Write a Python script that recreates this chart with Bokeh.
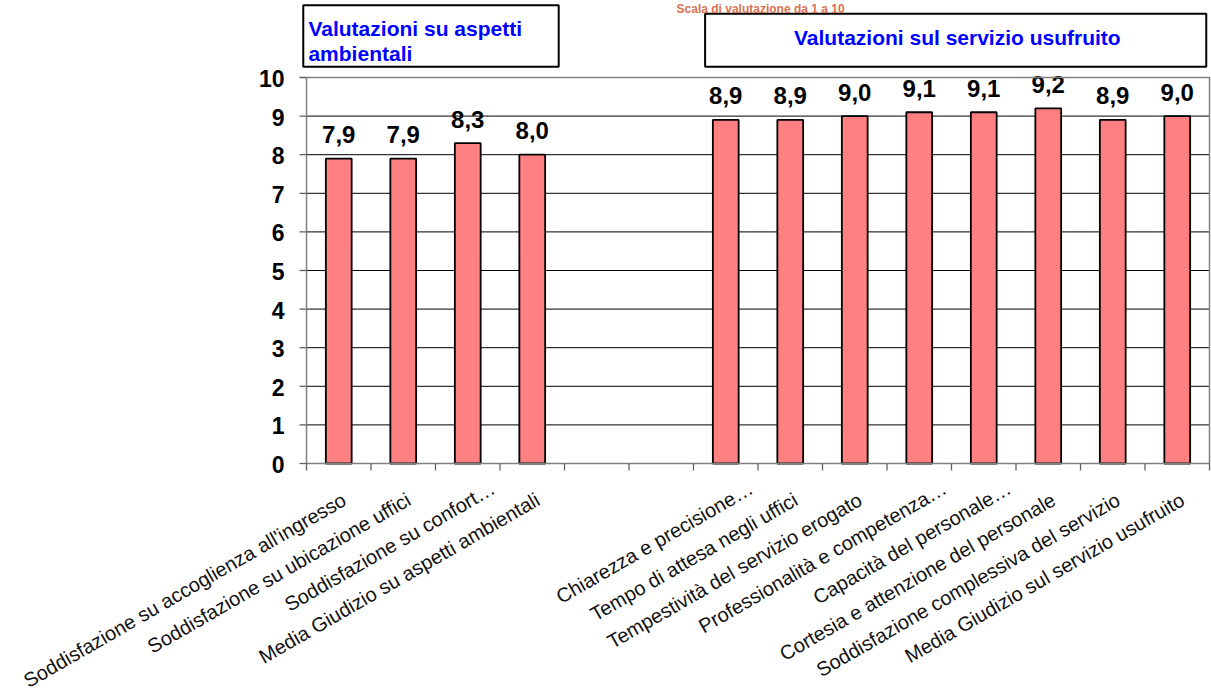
import math
from bokeh.plotting import figure
from bokeh.models import Range1d, ColumnDataSource, Label
from bokeh.core.properties import value
from bokeh.embed import file_html
from bokeh.resources import INLINE

# ---- data ----
categories = [
    "Soddisfazione su accoglienza all'ingresso",
    "Soddisfazione su ubicazione uffici",
    "Soddisfazione su confort…",
    "Media Giudizio su aspetti ambientali",
    "",
    "",
    "Chiarezza e precisione…",
    "Tempo di attesa negli uffici",
    "Tempestività del servizio erogato",
    "Professionalità e competenza…",
    "Capacità del personale…",
    "Cortesia e attenzione del personale",
    "Soddisfazione complessiva del servizio",
    "Media Giudizio sul servizio usufruito",
]
scores = [7.9, 7.9, 8.3, 8.0, None, None, 8.9, 8.9, 9.0, 9.1, 9.1, 9.2, 8.9, 9.0]
y_ticks = [0, 1, 2, 3, 4, 5, 6, 7, 8, 9, 10]
title_text = "Scala di valutazione da 1 a 10"
group_titles = ["Valutazioni su aspetti\nambientali", "Valutazioni sul servizio usufruito"]

FONT = "Liberation Sans"
n = len(categories)
xs = [i + 0.5 for i, v in enumerate(scores) if v is not None]
vals = [v for v in scores if v is not None]
labs = [f"{v:.1f}".replace(".", ",") for v in vals]
cat_x = [i + 0.5 for i, c in enumerate(categories) if c]
cat_names = [c for c in categories if c]
bounds = list(range(n + 1))

# layout (pixels): value-axis at x=306, y=0 at 463, y=10 at 77, bar slot 64.5 px
PX_X, PX_Y = 64.5, 38.6
W, H = 1211, 695
x_start = -306 / PX_X
x_end = n + 2 / PX_X
y_top = 463 / PX_Y
y_bot = -(H - 463) / PX_Y

# the frame covers the whole canvas; axes are drawn from glyphs
p = figure(width=W, height=H, output_backend="svg", toolbar_location=None,
           x_range=Range1d(x_start, x_end), y_range=Range1d(y_bot, y_top),
           min_border_left=0, min_border_right=0, min_border_top=0,
           min_border_bottom=0)
p.outline_line_color = None
p.background_fill_color = "white"
p.border_fill_color = "white"
p.xaxis.visible = False
p.yaxis.visible = False
p.grid.visible = False

# gridlines 1..9 black
grid_y = y_ticks[1:-1]
p.segment(x0=[0] * len(grid_y), y0=grid_y, x1=[n] * len(grid_y), y1=grid_y,
          line_color="black", line_width=1)

# bars
src = ColumnDataSource(dict(x=xs, top=vals, lab=labs))
p.vbar(x="x", top="top", width=0.4, bottom=0, source=src,
       fill_color="#FF8080", line_color="black", line_width=1.8)
p.text(x="x", y="top", text="lab", source=src, text_align="center",
       text_baseline="alphabetic", y_offset=-24, text_font=value(FONT),
       text_font_style="bold", text_font_size="24px", text_color="black")

# plot-area border (gray)
p.quad(left=[0], right=[n], bottom=[0], top=[y_ticks[-1]], fill_color=None,
       line_color="#808080", line_width=1.5)

# value-axis tick marks and labels
tick_len = 7 / PX_X
p.segment(x0=[-tick_len] * len(y_ticks), y0=y_ticks, x1=[0] * len(y_ticks), y1=y_ticks,
          line_color="#606060", line_width=1.3)
p.text(x=[0] * len(y_ticks), y=y_ticks, text=[str(t) for t in y_ticks],
       text_align="right", text_baseline="middle", x_offset=-22, y_offset=1,
       text_font=value(FONT), text_font_style="bold", text_font_size="23px",
       text_color="black")

# category-boundary tick marks below the x axis
tick_h = 7 / PX_Y
p.segment(x0=bounds, y0=[0] * len(bounds), x1=bounds, y1=[-tick_h] * len(bounds),
          line_color="#606060", line_width=1.3)

# category labels, rotated 30 degrees, right end at the category centre
# (truncated labels sit a little further along their direction, as in the source)
ang = math.pi / 6
shift = [23 if c.endswith("…") else 0 for c in cat_names]
cat_src = ColumnDataSource(dict(
    x=cat_x, y=[0] * len(cat_x), name=cat_names,
    xo=[0 + s * math.cos(ang) for s in shift],
    yo=[25 - s * math.sin(ang) for s in shift]))
p.text(x="x", y="y", text="name", source=cat_src, angle=ang,
       text_align="right", text_baseline="top", x_offset="xo", y_offset="yo",
       text_font=value(FONT), text_font_size="20px", text_color="#111111")

# group boxes
p.quad(left=[-0.05, 6.18], right=[3.91, 13.95], top=[11.87, 11.65],
       bottom=[10.28, 10.28], fill_color="white", line_color="black", line_width=2)
line1, line2 = group_titles[0].split("\n")
p.text(x=[0.03], y=[11.27], text=[line1], text_align="left",
       text_baseline="alphabetic", text_font=value(FONT), text_font_style="bold",
       text_font_size="21px", text_color="#0000FF")
p.text(x=[0.03], y=[10.62], text=[line2], text_align="left",
       text_baseline="alphabetic", text_font=value(FONT), text_font_style="bold",
       text_font_size="21px", text_color="#0000FF")
p.text(x=[10.09], y=[11.04], text=[group_titles[1]], text_align="center",
       text_baseline="alphabetic", text_font=value(FONT), text_font_style="bold",
       text_font_size="21px", text_color="#0000FF")

# title (small, fully visible above the boxes)
p.add_layout(Label(x=7.04, y=11.77, text=title_text, text_align="center",
                   text_baseline="alphabetic", text_font=FONT, text_font_style="bold",
                   text_font_size="12px", text_color="#D9714E"))

open("out.html", "w").write(file_html(p, INLINE))
